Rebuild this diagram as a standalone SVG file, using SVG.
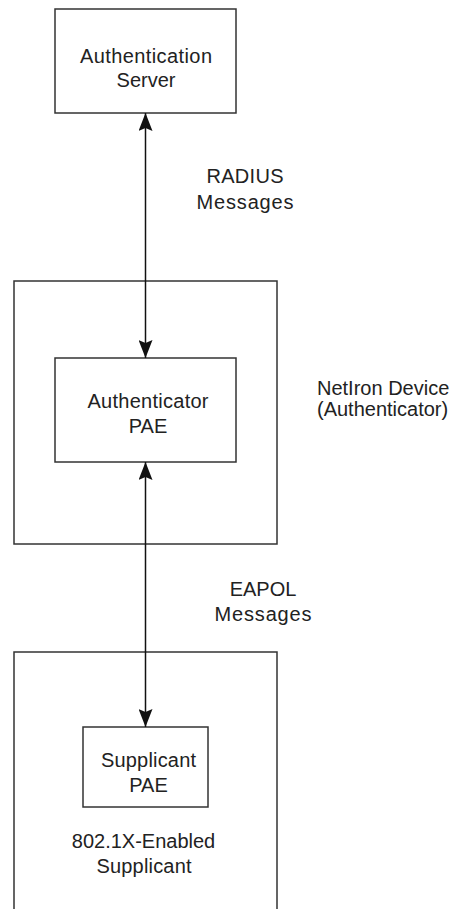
<svg xmlns="http://www.w3.org/2000/svg" width="455" height="909" viewBox="0 0 455 909">
<style>
.box{fill:none;stroke:#333;stroke-width:1.5}
.t{font-family:"Liberation Sans",Arial,sans-serif;font-size:20px;fill:#222;text-anchor:middle}
.ts{font-family:"Liberation Sans",Arial,sans-serif;font-size:20px;fill:#222;text-anchor:start}
.conn{stroke:#111;stroke-width:1.5;fill:none}
</style>
<defs>
<marker id="arr" markerUnits="userSpaceOnUse" viewBox="0 0 18 14" refX="18" refY="7" markerWidth="18" markerHeight="14" orient="auto-start-reverse">
<path d="M0,0 L18,7 L0,14 L3,7 z" fill="#111"/>
</marker>
</defs>
<rect width="455" height="909" fill="#fff"/>
<g id="auth-server">
<rect class="box" x="55" y="9" width="181" height="104"/>
<text class="t" x="146" y="63" textLength="132" lengthAdjust="spacing">Authentication</text>
<text class="t" x="146" y="87">Server</text>
</g>
<g id="netiron-device">
<rect class="box" x="14" y="281" width="263" height="263"/>
<text class="ts" x="317" y="395">NetIron Device</text>
<text class="ts" x="317" y="416">(Authenticator)</text>
</g>
<g id="authenticator-pae">
<rect class="box" x="55" y="358" width="181" height="104"/>
<text class="t" x="148" y="408" textLength="121" lengthAdjust="spacing">Authenticator</text>
<text class="t" x="148" y="433">PAE</text>
</g>
<g id="supplicant">
<path class="box" d="M14,909 L14,652 L277,652 L277,909"/>
<text class="t" x="143.5" y="848">802.1X-Enabled</text>
<text class="t" x="144" y="873" textLength="95" lengthAdjust="spacing">Supplicant</text>
</g>
<g id="supplicant-pae">
<rect class="box" x="83" y="727" width="125" height="80"/>
<text class="t" x="148.5" y="767" textLength="95" lengthAdjust="spacing">Supplicant</text>
<text class="t" x="148.5" y="792">PAE</text>
</g>
<g id="connectors">
<line class="conn" x1="145.5" y1="113" x2="145.5" y2="358" marker-start="url(#arr)" marker-end="url(#arr)"/>
<line class="conn" x1="145.5" y1="462" x2="145.5" y2="727" marker-start="url(#arr)" marker-end="url(#arr)"/>
<text class="t" x="245" y="183" textLength="77" lengthAdjust="spacing">RADIUS</text>
<text class="t" x="245" y="209" textLength="97" lengthAdjust="spacing">Messages</text>
<text class="t" x="263" y="596">EAPOL</text>
<text class="t" x="263" y="621" textLength="97" lengthAdjust="spacing">Messages</text>
</g>
</svg>
